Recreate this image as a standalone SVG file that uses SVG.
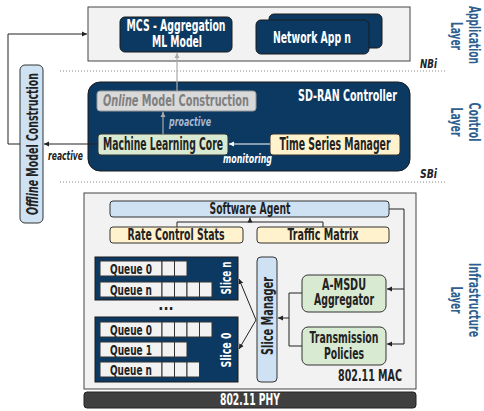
<svg xmlns="http://www.w3.org/2000/svg" width="484" height="411" viewBox="0 0 484 411">
<defs>
<marker id="ah" markerWidth="6" markerHeight="6" refX="5" refY="3" orient="auto" markerUnits="userSpaceOnUse"><path d="M0,0.5 L5,3 L0,5.5 z" fill="#222"/></marker>
<marker id="ahg" markerWidth="6" markerHeight="6" refX="5" refY="3" orient="auto" markerUnits="userSpaceOnUse"><path d="M0,0.5 L5,3 L0,5.5 z" fill="#aaa"/></marker>
<marker id="ahw" markerWidth="6" markerHeight="6" refX="5" refY="3" orient="auto" markerUnits="userSpaceOnUse"><path d="M0,0.5 L5,3 L0,5.5 z" fill="#fff"/></marker>
</defs>
<style>
text{font-family:"DejaVu Sans Condensed","DejaVu Sans",sans-serif;font-stretch:condensed;font-weight:bold;font-size:15px;fill:#222}
.c{text-anchor:middle}
.e{text-anchor:end}
.w{fill:#fff}
.i{font-style:italic}
.s{font-size:13px}
.m{font-size:16px}
.l{font-size:17px}
.q14{font-size:14px}
.navy{fill:#0c3962;stroke:#1a1a1a;stroke-width:1}
.panel{fill:#f2f2f2;stroke:#444;stroke-width:1}
.blue{fill:#cfe2f3;stroke:#333;stroke-width:1}
.green{fill:#d9ead3;stroke:#333;stroke-width:1}
.yellow{fill:#fff2cc;stroke:#333;stroke-width:1}
.q{fill:#f2f2f2;stroke:#333;stroke-width:1}
.dot{stroke:#888;stroke-width:1;stroke-dasharray:1 2;fill:none}
.ln{stroke:#222;stroke-width:1;fill:none}
.lg{stroke:#aaa;stroke-width:1.2;fill:none}
.lw{stroke:#fff;stroke-width:1;fill:none}
.layer{fill:#2f5f8f;text-anchor:middle}
</style>
<rect width="484" height="411" fill="#fff"/>

<g id="application-layer">
<rect class="panel" x="88" y="7" width="322" height="54"/>
</g>
<g id="mcs-model">
<rect class="navy" x="120" y="17" width="112" height="35" rx="5"/>
<text class="c w m" x="176" y="31" textLength="99" lengthAdjust="spacingAndGlyphs">MCS - Aggregation</text>
<text class="c w m" x="177" y="47" textLength="50" lengthAdjust="spacingAndGlyphs">ML Model</text>
</g>
<g id="network-app">
<rect class="navy" x="269" y="14" width="113" height="34" rx="5"/>
<rect class="navy" x="256" y="20" width="113" height="34" rx="5"/>
<text class="c w m" x="312" y="43" textLength="78" lengthAdjust="spacingAndGlyphs">Network App n</text>
</g>

<g id="interfaces">
<line class="dot" x1="60" y1="71" x2="446" y2="71"/>
<text class="i s" x="420" y="68" textLength="17" lengthAdjust="spacingAndGlyphs">NBi</text>
<line class="dot" x1="60" y1="182" x2="446" y2="182"/>
<text class="i s" x="420" y="178" textLength="17" lengthAdjust="spacingAndGlyphs">SBi</text>
</g>

<g id="sd-ran-controller">
<rect class="navy" x="88" y="82" width="322" height="89" rx="12"/>
<text class="e w m" x="397" y="101" textLength="99" lengthAdjust="spacingAndGlyphs">SD-RAN Controller</text>
</g>
<g id="online-model-construction">
<rect x="97" y="91" width="159" height="20" rx="3" fill="#d9d9d9" stroke="#999"/>
<text class="c m" x="176" y="106" style="fill:#7f7f7f" textLength="146" lengthAdjust="spacingAndGlyphs"><tspan class="i" style="fill:#7f7f7f">Online</tspan> Model Construction</text>
</g>
<g id="machine-learning-core">
<rect class="green" x="98" y="134" width="130" height="21" rx="3"/>
<text class="c l" x="163" y="150" textLength="120" lengthAdjust="spacingAndGlyphs">Machine Learning Core</text>
</g>
<g id="time-series-manager">
<rect class="yellow" x="270" y="134" width="130" height="21" rx="3"/>
<text class="c l" x="335" y="150" textLength="111" lengthAdjust="spacingAndGlyphs">Time Series Manager</text>
</g>
<g id="offline-model-construction">
<rect class="blue" x="20" y="65" width="23" height="158" rx="5"/>
<text class="c m" transform="translate(37.5,144) rotate(-90)" textLength="142" lengthAdjust="spacingAndGlyphs"><tspan class="i">Offline</tspan> Model Construction</text>
</g>

<g id="infrastructure-layer">
<rect class="panel" x="84" y="193" width="332" height="196"/>
<text class="e m" x="402" y="381" textLength="64" lengthAdjust="spacingAndGlyphs">802.11 MAC</text>
</g>
<g id="phy">
<rect x="84" y="392" width="332" height="16" rx="3" fill="#404040" stroke="#222"/>
<text class="c w" x="250" y="405" textLength="60" lengthAdjust="spacingAndGlyphs">802.11 PHY</text>
</g>
<g id="software-agent">
<rect class="blue" x="110" y="201" width="279" height="16" rx="3"/>
<text class="c" x="250" y="214" textLength="81" lengthAdjust="spacingAndGlyphs">Software Agent</text>
</g>
<g id="rate-control-stats">
<rect class="yellow" x="110" y="227" width="133" height="16" rx="3"/>
<text class="c" x="176" y="240" textLength="97" lengthAdjust="spacingAndGlyphs">Rate Control Stats</text>
</g>
<g id="traffic-matrix">
<rect class="yellow" x="257" y="227" width="132" height="16" rx="3"/>
<text class="c" x="323" y="240" textLength="71" lengthAdjust="spacingAndGlyphs">Traffic Matrix</text>
</g>
<g id="a-msdu-aggregator">
<rect class="green" x="302" y="275" width="84" height="37" rx="6"/>
<text class="c" x="344" y="290" textLength="44" lengthAdjust="spacingAndGlyphs">A-MSDU</text>
<text class="c" x="344" y="305" textLength="60" lengthAdjust="spacingAndGlyphs">Aggregator</text>
</g>
<g id="transmission-policies">
<rect class="green" x="302" y="327" width="84" height="38" rx="6"/>
<text class="c" x="344" y="343" textLength="69" lengthAdjust="spacingAndGlyphs">Transmission</text>
<text class="c" x="344" y="359" textLength="40" lengthAdjust="spacingAndGlyphs">Policies</text>
</g>
<g id="slice-manager">
<rect class="blue" x="257" y="257" width="20" height="125" rx="4"/>
<text class="c" transform="translate(272.5,316) rotate(-90)" textLength="78" lengthAdjust="spacingAndGlyphs">Slice Manager</text>
</g>
<g id="slice-n">
<rect class="navy" x="95" y="257" width="143" height="43"/>
<rect class="q" x="100" y="261" width="62" height="15"/>
<rect class="q" x="162" y="261" width="12.5" height="15"/><rect class="q" x="174.5" y="261" width="12.5" height="15"/>
<text class="c q14" x="131" y="274" textLength="42" lengthAdjust="spacingAndGlyphs">Queue 0</text>
<rect class="q" x="100" y="282" width="62" height="15"/>
<rect class="q" x="162" y="282" width="12.5" height="15"/><rect class="q" x="174.5" y="282" width="12.5" height="15"/><rect class="q" x="187" y="282" width="12.5" height="15"/><rect class="q" x="199.5" y="282" width="12.5" height="15"/>
<text class="c q14" x="131" y="295" textLength="42" lengthAdjust="spacingAndGlyphs">Queue n</text>
<text class="c w q14" transform="translate(230.5,278) rotate(-90)" textLength="33" lengthAdjust="spacingAndGlyphs">Slice n</text>
</g>
<g id="slice-0">
<rect class="navy" x="95" y="317" width="143" height="65"/>
<rect class="q" x="100" y="322" width="62" height="15"/>
<rect class="q" x="162" y="322" width="12.5" height="15"/><rect class="q" x="174.5" y="322" width="12.5" height="15"/><rect class="q" x="187" y="322" width="12.5" height="15"/><rect class="q" x="199.5" y="322" width="12.5" height="15"/>
<text class="c q14" x="131" y="335" textLength="42" lengthAdjust="spacingAndGlyphs">Queue 0</text>
<rect class="q" x="100" y="342" width="62" height="15"/>
<rect class="q" x="162" y="342" width="12.5" height="15"/><rect class="q" x="174.5" y="342" width="12.5" height="15"/>
<text class="c q14" x="131" y="355" textLength="42" lengthAdjust="spacingAndGlyphs">Queue 1</text>
<rect class="q" x="100" y="362" width="62" height="15"/>
<rect class="q" x="162" y="362" width="12.5" height="15"/><rect class="q" x="174.5" y="362" width="12.5" height="15"/><rect class="q" x="187" y="362" width="12.5" height="15"/>
<text class="c q14" x="131" y="375" textLength="42" lengthAdjust="spacingAndGlyphs">Queue n</text>
<text class="c w q14" transform="translate(230.5,350) rotate(-90)" textLength="35" lengthAdjust="spacingAndGlyphs">Slice 0</text>
</g>
<text class="c" x="166" y="310" font-size="9" font-weight="normal" fill="#555">...</text>

<g id="connectors">
<line class="lg" x1="177" y1="91" x2="177" y2="53" marker-end="url(#ahg)"/>
<line class="lg" x1="163" y1="134" x2="163" y2="112" marker-end="url(#ahg)"/>
<text class="i s" x="169" y="126" style="fill:#a9b8cc" textLength="42" lengthAdjust="spacingAndGlyphs">proactive</text>
<line class="lw" x1="270" y1="144" x2="229" y2="144" marker-end="url(#ahw)"/>
<text class="i s w" x="223" y="163" textLength="49" lengthAdjust="spacingAndGlyphs">monitoring</text>
<line class="ln" x1="98" y1="144" x2="44" y2="144" marker-end="url(#ah)"/>
<text class="i s" x="48" y="160" textLength="35" lengthAdjust="spacingAndGlyphs">reactive</text>
<path class="ln" d="M20,144 H8 V34 H87" marker-end="url(#ah)"/>
<path class="ln" d="M177,227 V222 H323 V227"/>
<line class="ln" x1="250" y1="222" x2="250" y2="217.5" marker-end="url(#ah)"/>
<path class="ln" d="M389,209 H404 V344 H387" marker-end="url(#ah)"/>
<line class="ln" x1="404" y1="289" x2="387" y2="289" marker-end="url(#ah)"/>
<path class="ln" d="M302,293 H289 V346 H302"/>
<line class="ln" x1="289" y1="318" x2="278" y2="318" marker-end="url(#ah)"/>
<line class="ln" x1="256" y1="320" x2="239" y2="279" marker-end="url(#ah)"/>
<line class="ln" x1="256" y1="320" x2="239" y2="349" marker-end="url(#ah)"/>
</g>

<g id="layer-labels">
<text class="layer" transform="translate(469,35) rotate(90)" textLength="58" lengthAdjust="spacingAndGlyphs">Application</text>
<text class="layer" transform="translate(451,36) rotate(90)" textLength="28" lengthAdjust="spacingAndGlyphs">Layer</text>
<text class="layer" transform="translate(469,122) rotate(90)" textLength="39" lengthAdjust="spacingAndGlyphs">Control</text>
<text class="layer" transform="translate(451,122) rotate(90)" textLength="29" lengthAdjust="spacingAndGlyphs">Layer</text>
<text class="layer" transform="translate(469,300) rotate(90)" textLength="74" lengthAdjust="spacingAndGlyphs">Infrastructure</text>
<text class="layer" transform="translate(451,300) rotate(90)" textLength="27" lengthAdjust="spacingAndGlyphs">Layer</text>
</g>
</svg>
